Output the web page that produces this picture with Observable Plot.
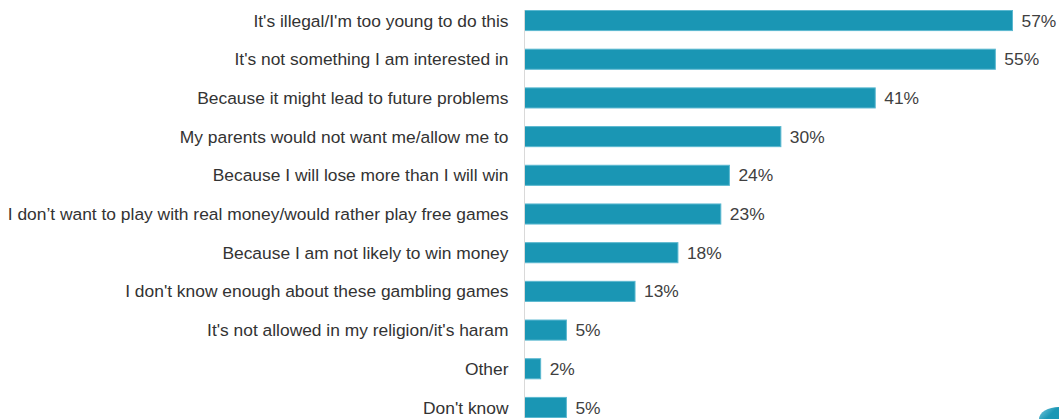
<!DOCTYPE html>
<html>
<head>
<meta charset="utf-8">
<script src="https://cdn.jsdelivr.net/npm/d3@7"></script>
<script src="https://cdn.jsdelivr.net/npm/@observablehq/plot@0.6"></script>
<style>
  html, body { margin: 0; padding: 0; background: #fff; }
  #chart { position: relative; width: 1059px; height: 419px; overflow: hidden; }
  #corner { position: absolute; right: 0; bottom: 0; width: 20px; height: 12px;
            border-top-left-radius: 100% 100%;
            background: linear-gradient(135deg, #7fcbe0 0%, #1b97b5 60%); }
</style>
</head>
<body>
<div id="chart"><div id="corner"></div></div>
<script>
const categories = [
  "It's illegal/I'm too young to do this",
  "It's not something I am interested in",
  "Because it might lead to future problems",
  "My parents would not want me/allow me to",
  "Because I will lose more than I will win",
  "I don\u2019t want to play with real money/would rather play free games",
  "Because I am not likely to win money",
  "I don't know enough about these gambling games",
  "It's not allowed in my religion/it's haram",
  "Other",
  "Don't know"
];
const values = [57, 55, 41, 30, 24, 23, 18, 13, 5, 2, 5];
const valueLabels = ["57%", "55%", "41%", "30%", "24%", "23%", "18%", "13%", "5%", "2%", "5%"];

const data = categories.map((c, i) => ({category: c, value: values[i], label: valueLabels[i]}));

const plot = Plot.plot({
  width: 1059,
  height: 419,
  marginLeft: 524,
  marginRight: 46,
  marginTop: 10,
  marginBottom: 1,
  style: {fontFamily: "'Liberation Sans', Arial, sans-serif", fontSize: "17.4px", color: "#333", background: "#fff"},
  x: {domain: [0, 57], axis: null},
  y: {domain: categories, paddingInner: 0.455, paddingOuter: 0, round: false, label: null, tickSize: 0, tickPadding: 16},
  marks: [
    Plot.barX(data, {y: "category", x: "value", fill: "#1a96b4", stroke: "#5bb8d0", strokeWidth: 1, inset: 0.5}),
    Plot.ruleX([0], {stroke: "#d9d9d9", strokeWidth: 1}),
    Plot.text(data, {y: "category", x: "value", text: "label", textAnchor: "start", dx: 8, fill: "#404040", fontSize: 17.4}),
    Plot.axisY({tickSize: 0, tickPadding: 16, fontSize: 17.4, fill: "#333", label: null})
  ]
});
document.getElementById("chart").prepend(plot);
</script>
</body>
</html>
